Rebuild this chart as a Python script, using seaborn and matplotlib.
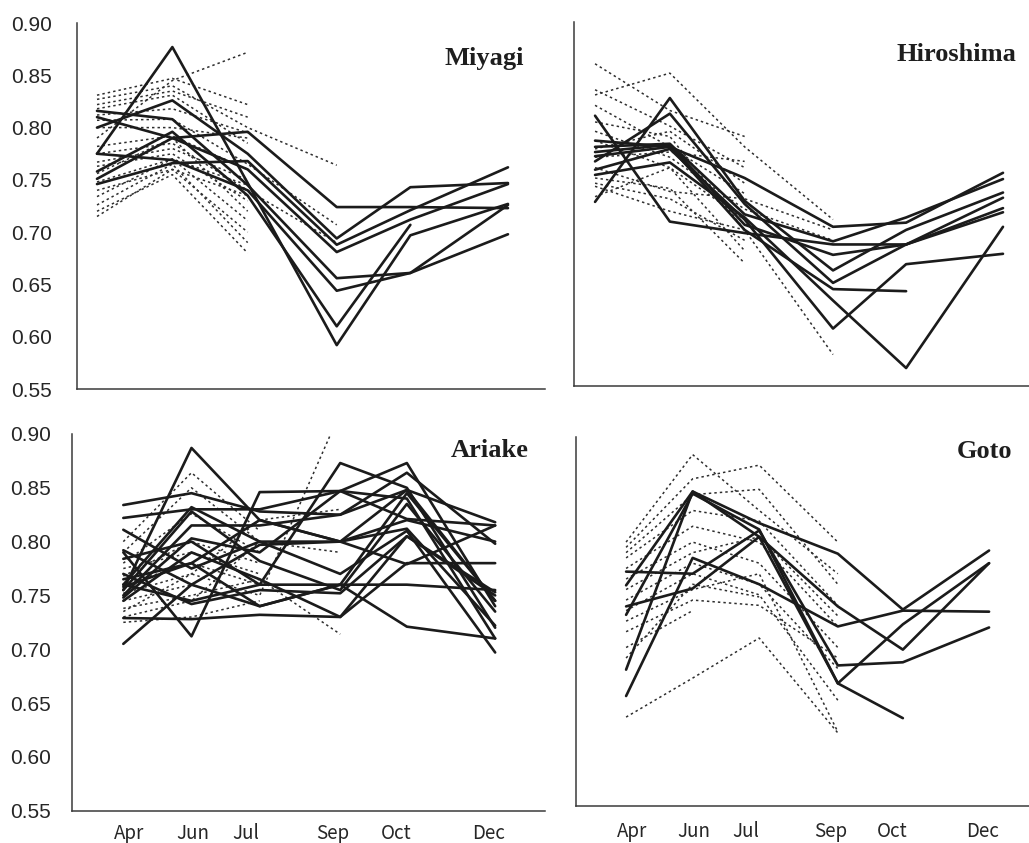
import numpy as np
import pandas as pd
import matplotlib
matplotlib.use("Agg")
import matplotlib.pyplot as plt
import seaborn as sns

nan = np.nan

# sampling months and their position along the season (days after the April sample)
months = ["Apr", "Jun", "Jul", "Sep", "Oct", "Dec"]
sample_day = [0, 44, 88, 140, 183, 240]
month_label_day = [4, 45, 79, 135, 176, 236]
y_ticks = [0.55, 0.60, 0.65, 0.70, 0.75, 0.80, 0.85, 0.90]
regions = ["Miyagi", "Hiroshima", "Ariake", "Goto"]

# values per series: Apr, Jun, Jul, Sep, Oct, Dec (nan = not sampled)
miyagi_solid = [
    [0.816, 0.808, 0.745, 0.656, 0.661, 0.698],
    [0.810, 0.790, 0.760, 0.681, 0.712, 0.746],
    [0.800, 0.826, 0.775, 0.694, 0.743, 0.747],
    [0.775, 0.877, 0.747, 0.592, 0.697, 0.727],
    [0.775, 0.769, 0.740, 0.644, 0.661, 0.726],
    [0.758, 0.796, 0.735, 0.610, 0.707, nan],
    [0.751, 0.790, 0.796, 0.724, 0.724, 0.723],
    [0.746, 0.766, 0.768, 0.688, 0.721, 0.762],
]
miyagi_dotted = [
    [0.831, 0.847, 0.822],
    [0.827, 0.840, 0.800, 0.764],
    [0.822, 0.835, 0.810],
    [0.818, 0.831, 0.785],
    [0.812, 0.818, 0.795],
    [0.807, 0.808, 0.765, 0.707],
    [0.800, 0.800, 0.790],
    [0.790, 0.845, 0.872],
    [0.782, 0.792, 0.760],
    [0.775, 0.785, 0.740, 0.690],
    [0.767, 0.780, 0.750],
    [0.763, 0.775, 0.730],
    [0.756, 0.790, 0.720],
    [0.748, 0.770, 0.745],
    [0.740, 0.760, 0.700],
    [0.734, 0.770, 0.711],
    [0.726, 0.765, 0.690],
    [0.720, 0.755, 0.680],
    [0.715, 0.760, 0.735],
]

hiroshima_solid = [
    [0.810, 0.708, 0.697, 0.686, 0.686, 0.721],
    [0.786, 0.780, 0.750, 0.703, 0.707, 0.755],
    [0.727, 0.827, 0.728, 0.661, 0.700, 0.736],
    [0.766, 0.812, 0.725, 0.649, 0.686, 0.731],
    [0.780, 0.783, 0.715, 0.689, 0.712, 0.749],
    [0.775, 0.782, 0.705, 0.676, 0.686, 0.717],
    [0.771, 0.780, 0.700, 0.643, 0.641, nan],
    [0.758, 0.778, 0.710, 0.605, 0.667, 0.677],
    [0.753, 0.765, 0.712, 0.632, 0.567, 0.703],
]
hiroshima_dotted = [
    [0.860, 0.815, 0.790],
    [0.830, 0.851, 0.780, 0.710],
    [0.835, 0.800, 0.760],
    [0.820, 0.780, 0.735],
    [0.804, 0.790, 0.700],
    [0.795, 0.770, 0.720, 0.690],
    [0.786, 0.760, 0.680],
    [0.778, 0.795, 0.745],
    [0.770, 0.775, 0.766],
    [0.760, 0.737, 0.730, 0.700],
    [0.750, 0.740, 0.668],
    [0.742, 0.718, 0.700, 0.580],
    [0.732, 0.760, 0.710],
    [0.745, 0.730, 0.690],
]

ariake_solid = [
    [0.755, 0.887, 0.820, 0.800, 0.848, 0.745],
    [0.834, 0.845, 0.828, 0.825, 0.848, 0.818],
    [0.822, 0.830, 0.830, 0.847, 0.873, 0.740],
    [0.811, 0.775, 0.800, 0.800, 0.820, 0.800],
    [0.792, 0.760, 0.740, 0.760, 0.845, 0.745],
    [0.784, 0.800, 0.760, 0.873, 0.850, 0.720],
    [0.760, 0.832, 0.800, 0.770, 0.810, 0.697],
    [0.755, 0.828, 0.782, 0.755, 0.835, 0.735],
    [0.750, 0.815, 0.815, 0.825, 0.864, 0.798],
    [0.748, 0.803, 0.790, 0.847, 0.821, 0.815],
    [0.745, 0.790, 0.765, 0.730, 0.780, 0.780],
    [0.760, 0.745, 0.760, 0.760, 0.760, 0.755],
    [0.729, 0.728, 0.732, 0.730, 0.805, 0.750],
    [0.705, 0.760, 0.797, 0.800, 0.812, 0.722],
    [0.790, 0.712, 0.846, 0.847, 0.840, 0.710],
    [0.765, 0.780, 0.820, 0.800, 0.779, 0.815],
    [0.758, 0.780, 0.740, 0.760, 0.721, 0.710],
    [0.770, 0.742, 0.755, 0.752, 0.805, 0.753],
]
ariake_dotted = [
    [0.800, 0.864, 0.810],
    [0.790, 0.850, 0.800],
    [0.780, 0.826, 0.790],
    [0.775, 0.790, 0.770],
    [0.768, 0.800, 0.780],
    [0.760, 0.780, 0.760],
    [0.752, 0.770, 0.750, 0.920],
    [0.745, 0.760, 0.740],
    [0.738, 0.750, 0.765, 0.714],
    [0.730, 0.745, 0.800, 0.790],
    [0.725, 0.730, 0.745],
    [0.735, 0.770, 0.820, 0.830],
]

goto_solid = [
    [0.679, 0.848, 0.818, 0.789, 0.736, 0.792],
    [0.759, 0.848, 0.805, 0.739, 0.698, 0.780],
    [0.772, 0.770, 0.811, 0.683, 0.686, 0.719],
    [0.654, 0.785, 0.760, 0.720, 0.735, 0.734],
    [0.739, 0.756, 0.805, 0.666, 0.633, nan],
    [0.731, 0.846, 0.812, 0.666, 0.722, 0.780],
]
goto_dotted = [
    [0.800, 0.883, 0.830, 0.770],
    [0.795, 0.860, 0.873, 0.800],
    [0.790, 0.845, 0.850, 0.760],
    [0.785, 0.830, 0.820, 0.740],
    [0.775, 0.815, 0.800, 0.720],
    [0.765, 0.800, 0.780, 0.700],
    [0.755, 0.790, 0.805, 0.730],
    [0.745, 0.780, 0.760, 0.680],
    [0.735, 0.770, 0.750, 0.650],
    [0.725, 0.755, 0.770, 0.620],
    [0.715, 0.745, 0.740, 0.690],
    [0.700, 0.735],
    [0.690, 0.760, 0.748],
    [0.634, 0.671, 0.709, 0.619],
]

series_sets = {
    "Miyagi": (miyagi_solid, miyagi_dotted),
    "Hiroshima": (hiroshima_solid, hiroshima_dotted),
    "Ariake": (ariake_solid, ariake_dotted),
    "Goto": (goto_solid, goto_dotted),
}

rows = []
for region, (solid, dotted) in series_sets.items():
    for kind, group in (("solid", solid), ("dotted", dotted)):
        for i, vals in enumerate(group):
            for day, v in zip(sample_day, vals):
                rows.append((region, kind, f"{region}-{kind}-{i}", day, v))
df = pd.DataFrame(rows, columns=["region", "kind", "series", "day", "value"]).dropna()

sns.set_style("white")
plt.rcParams["font.family"] = ["Liberation Sans", "DejaVu Sans"]

fig = plt.figure(figsize=(10.29, 8.43), dpi=100)

# axes rectangles [left, bottom, width, height] and horizontal extent in days
panel_rect = {
    "Miyagi": [0.0748, 0.5385, 0.4548, 0.4342],
    "Hiroshima": [0.5578, 0.5425, 0.4422, 0.4311],
    "Ariake": [0.0700, 0.0383, 0.4597, 0.4469],
    "Goto": [0.5598, 0.0443, 0.4402, 0.4377],
}
panel_xlim = {
    "Miyagi": (-11.7, 261.6),
    "Hiroshima": (-12.4, 255.3),
    "Ariake": (-33.1, 272.2),
    "Goto": (-33.1, 266.4),
}
title_pos = {
    "Miyagi": (0.5092, 0.9229),
    "Hiroshima": (0.9880, 0.9276),
    "Ariake": (0.5141, 0.4582),
    "Goto": (0.9842, 0.4567),
}

for region in regions:
    ax = fig.add_axes(panel_rect[region])
    sub = df[df.region == region]
    sns.lineplot(data=sub[sub.kind == "dotted"], x="day", y="value", units="series",
                 estimator=None, sort=False, color="#2e2e2e", lw=1.1,
                 linestyle=(0, (1.6, 2.0)), legend=False, ax=ax)
    sns.lineplot(data=sub[sub.kind == "solid"], x="day", y="value", units="series",
                 estimator=None, sort=False, color="#1b1b1b", lw=1.9,
                 legend=False, ax=ax)
    ax.set_xlim(*panel_xlim[region])
    ax.set_ylim(0.55, 0.90)
    ax.set_yticks(y_ticks)
    ax.set_xlabel("")
    ax.set_ylabel("")
    for side in ("top", "right"):
        ax.spines[side].set_visible(False)
    for side in ("left", "bottom"):
        ax.spines[side].set_color("#3a3a3a")
        ax.spines[side].set_linewidth(1.1)
    left_col = region in ("Miyagi", "Ariake")
    bottom_row = region in ("Ariake", "Goto")
    ax.tick_params(axis="y", direction="in", length=5, width=1.0, color="#3a3a3a",
                   labelsize=15, pad=18 if region == "Miyagi" else 15,
                   labelleft=left_col)
    if left_col:
        ax.set_yticklabels([f"{t:.2f}" for t in y_ticks])
    if bottom_row:
        ax.set_xticks(month_label_day)
        ax.set_xticklabels(months, fontfamily=["Noto Sans CJK JP", "DejaVu Sans"],
                           fontsize=13.5)
        ax.tick_params(axis="x", length=0, pad=9 if region == "Ariake" else 11)
    else:
        ax.set_xticks([])
    fig.text(*title_pos[region], region, ha="right", va="baseline",
             fontfamily="Liberation Serif", fontweight="bold", fontsize=19,
             color="#1e1e1e")

fig.savefig("out.png", dpi=100)
